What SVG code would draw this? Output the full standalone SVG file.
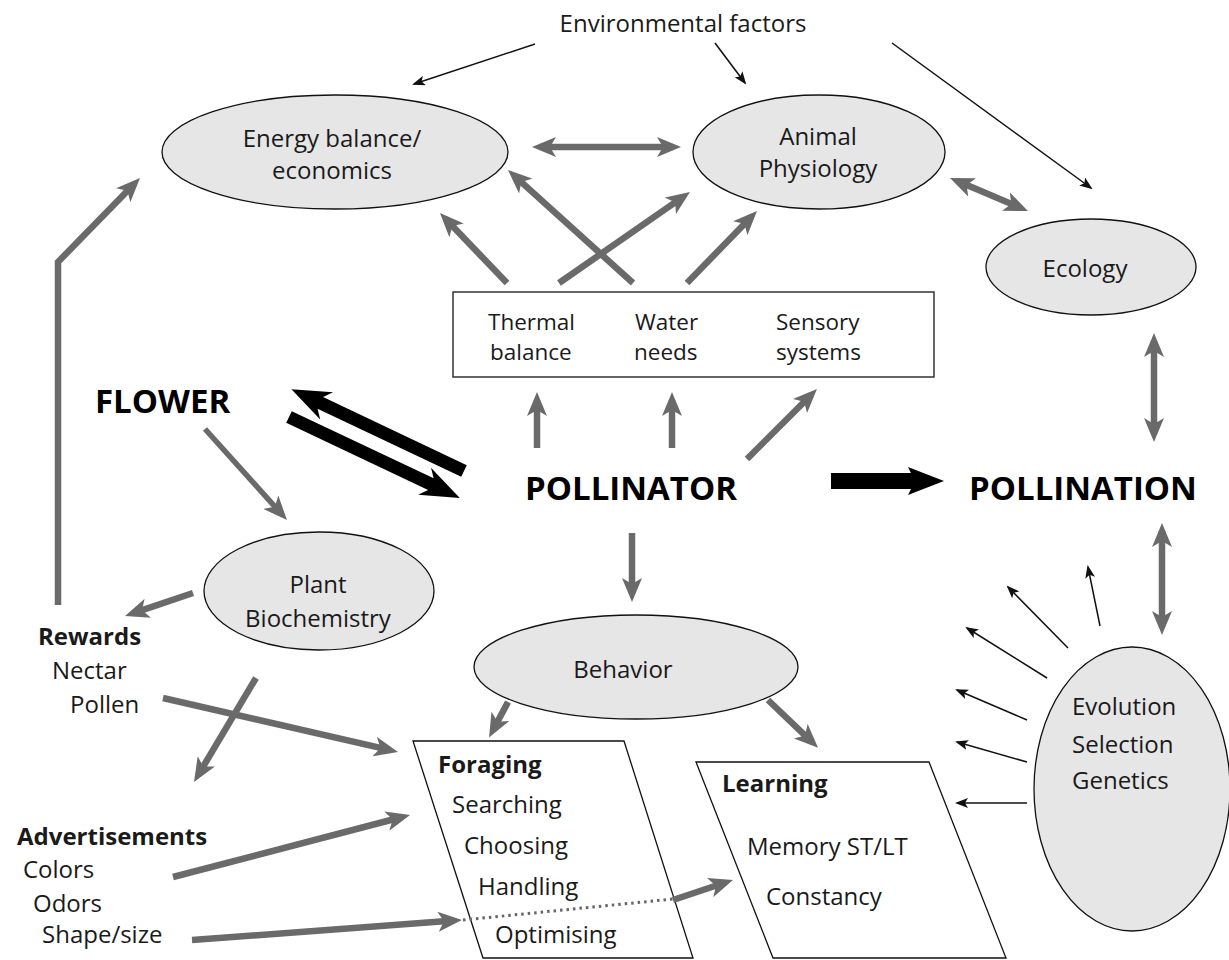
<svg xmlns="http://www.w3.org/2000/svg" width="1229" height="960" viewBox="0 0 1229 960">
<defs>
<style>
text{font-family:"Open Sans","Noto Sans","Liberation Sans",sans-serif;font-size:24px;fill:#1a1a1a}
.b{font-weight:bold}
.big{font-weight:bold;font-size:33px;fill:#000}
.mid{text-anchor:middle}
.sm{font-size:22.5px}
.ell{fill:#e6e6e6;stroke:#111;stroke-width:1.3}
.par{fill:#fff;stroke:#111;stroke-width:1.3}
.g{fill:none;stroke:#6a6a6a;stroke-width:6.5}
.g1{marker-end:url(#ga)}
.g2{marker-end:url(#ga);marker-start:url(#ga)}
.t{fill:none;stroke:#111;stroke-width:1.5;marker-end:url(#ta)}
.blk{fill:#000}
</style>
<marker id="ga" viewBox="0 -10 24 20" markerWidth="24" markerHeight="20" refX="16" refY="0" orient="auto-start-reverse" markerUnits="userSpaceOnUse">
<path d="M24,0 L0,-10 L6,0 L0,10 Z" fill="#6a6a6a"/>
</marker>
<marker id="ta" viewBox="0 -5 13 10" markerWidth="13" markerHeight="10" refX="11" refY="0" orient="auto" markerUnits="userSpaceOnUse">
<path d="M13,0 L0,-5 L3,0 L0,5 Z" fill="#111"/>
</marker>
</defs>
<rect width="1229" height="960" fill="#fff"/>

<g id="connectors">
<line class="t" x1="535" y1="44" x2="414" y2="84"/>
<line class="t" x1="715" y1="43" x2="745" y2="83"/>
<line class="t" x1="892" y1="43" x2="1091" y2="188"/>
<line class="t" x1="1100" y1="626" x2="1088" y2="567"/>
<line class="t" x1="1068" y1="648" x2="1008" y2="587"/>
<line class="t" x1="1047" y1="678" x2="967" y2="628"/>
<line class="t" x1="1027" y1="720" x2="957" y2="690"/>
<line class="t" x1="1027" y1="762" x2="957" y2="742"/>
<line class="t" x1="1027" y1="803" x2="957" y2="803"/>

<line class="g g1" x1="507" y1="283" x2="445.5" y2="218.8"/>
<line class="g g1" x1="559" y1="283" x2="683.4" y2="196.6"/>
<line class="g g1" x1="633" y1="283" x2="513.9" y2="175.4"/>
<line class="g g1" x1="687" y1="283" x2="751.4" y2="216.7"/>
<line class="g g2" x1="540" y1="147" x2="673" y2="147"/>
<line class="g g2" x1="957.4" y1="181.1" x2="1020.6" y2="207.9"/>
<line class="g g2" x1="1154" y1="341" x2="1154" y2="434"/>
<line class="g g2" x1="1162" y1="531" x2="1162" y2="627"/>
<path class="g g1" d="M58,605 L58,262 L134.4,183.7"/>
<line class="g g1" x1="537" y1="448" x2="537" y2="400"/>
<line class="g g1" x1="672" y1="448" x2="672" y2="400"/>
<line class="g g1" x1="747" y1="459" x2="811.3" y2="394.7"/>
<line class="g g1" x1="205" y1="429" x2="281.6" y2="514.1" style="stroke-width:5.5"/>
<line class="g g1" x1="632" y1="533" x2="632" y2="594"/>
<line class="g g1" x1="193" y1="593" x2="132.6" y2="613.4"/>
<line class="g g1" x1="256" y1="678" x2="198.1" y2="775.1"/>
<line class="g g1" x1="163" y1="698" x2="390.2" y2="750.2"/>
<line class="g g1" x1="173" y1="877" x2="402.3" y2="817"/>
<line class="g g1" x1="192" y1="940" x2="454" y2="920.6"/>
<line class="g g1" x1="508" y1="702" x2="492.8" y2="730.5"/>
<line class="g g1" x1="768" y1="700" x2="812.3" y2="742.3"/>

<path class="blk" transform="translate(464,471) rotate(205.36)" d="M0,-6.5 H159 L152,-15 L191,0 L152,15 L159,6.5 H0 Z"/>
<path class="blk" transform="translate(289,417) rotate(25.35)" d="M0,-6.5 H157 L150,-15 L189,0 L150,15 L157,6.5 H0 Z"/>
<path class="blk" transform="translate(831,481)" d="M0,-8 H80 L77,-14 L113,0 L77,14 L80,8 H0 Z"/>
</g>

<g id="env"><text x="683" y="32" class="mid">Environmental factors</text></g>

<g id="energy">
<ellipse class="ell" cx="335" cy="152" rx="173" ry="57"/>
<text x="332" y="147" class="mid">Energy balance/</text>
<text x="332" y="179" class="mid">economics</text>
</g>

<g id="animal">
<ellipse class="ell" cx="819" cy="152" rx="126" ry="57"/>
<text x="818" y="145" class="mid">Animal</text>
<text x="818" y="177" class="mid">Physiology</text>
</g>

<g id="ecology">
<ellipse class="ell" cx="1091" cy="267" rx="105" ry="48"/>
<text x="1085" y="277" class="mid">Ecology</text>
</g>

<g id="physbox">
<rect x="453" y="292" width="481" height="85" fill="#fff" stroke="#333" stroke-width="1.5"/>
<text x="488" y="330" class="sm">Thermal</text>
<text x="490" y="360" class="sm">balance</text>
<text x="635" y="330" class="sm">Water</text>
<text x="634" y="360" class="sm">needs</text>
<text x="776" y="330" class="sm">Sensory</text>
<text x="776" y="360" class="sm">systems</text>
</g>

<g id="flower"><text x="95" y="413" class="big">FLOWER</text></g>
<g id="pollinator"><text x="525" y="500" class="big">POLLINATOR</text></g>
<g id="pollination"><text x="969" y="500" class="big">POLLINATION</text></g>

<g id="plant">
<ellipse class="ell" cx="319" cy="591" rx="115" ry="59"/>
<text x="318" y="593" class="mid">Plant</text>
<text x="318" y="627" class="mid">Biochemistry</text>
</g>

<g id="behavior">
<ellipse class="ell" cx="636" cy="667" rx="162" ry="52"/>
<text x="623" y="678" class="mid">Behavior</text>
</g>

<g id="rewards">
<text x="38" y="645" class="b">Rewards</text>
<text x="52" y="679">Nectar</text>
<text x="70" y="713">Pollen</text>
</g>

<g id="advertisements">
<text x="17" y="845" class="b">Advertisements</text>
<text x="23" y="878">Colors</text>
<text x="33" y="912">Odors</text>
<text x="42" y="943">Shape/size</text>
</g>

<g id="foraging">
<polygon class="par" points="413,741 624,741 693,958 483,958"/>
<text x="438" y="773" class="b">Foraging</text>
<text x="452" y="813">Searching</text>
<text x="464" y="854">Choosing</text>
<text x="478" y="895">Handling</text>
<text x="495" y="943">Optimising</text>
</g>

<g id="learning">
<polygon class="par" points="696,762 929,762 1006,958 773,958"/>
<text x="722" y="792" class="b">Learning</text>
<text x="747" y="855">Memory ST/LT</text>
<text x="766" y="905">Constancy</text>
</g>

<g id="dotted">
<line x1="463" y1="920" x2="673" y2="899" stroke="#666" stroke-width="3" stroke-dasharray="2.5 4"/>
<line class="g g1" x1="673" y1="900" x2="725.4" y2="882.5"/>
</g>

<g id="evolution">
<ellipse class="ell" cx="1132" cy="789" rx="98" ry="142"/>
<text x="1072" y="715">Evolution</text>
<text x="1072" y="753">Selection</text>
<text x="1072" y="789">Genetics</text>
</g>
</svg>
